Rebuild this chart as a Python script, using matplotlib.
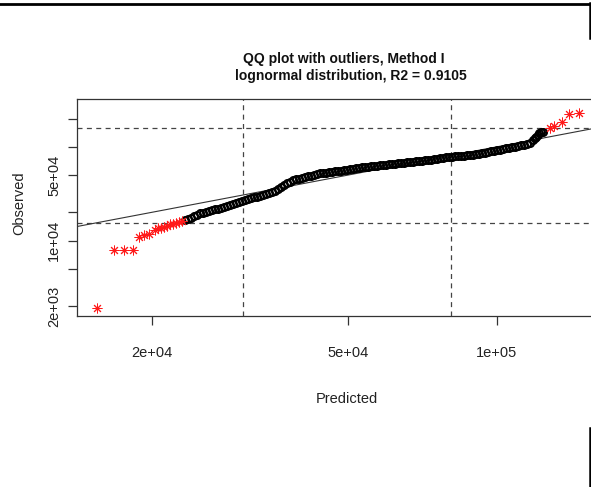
import numpy as np
import matplotlib
matplotlib.use('Agg')
import matplotlib.pyplot as plt
from matplotlib import font_manager
from matplotlib.lines import Line2D
from matplotlib.ticker import NullLocator, FixedLocator, FixedFormatter

# pick a narrow sans if there is one (the reference text is condensed)
names = {f.name for f in font_manager.fontManager.ttflist}
narrow = 'Liberation Sans Narrow' in names
fam = 'Liberation Sans Narrow' if narrow else 'Liberation Sans'
plt.rcParams['font.family'] = [fam, 'DejaVu Sans']
fs = 12 if narrow else 10.5
fs_title = 12 if narrow else 10

# ---- data ----
# black circles (predicted vs observed)
predicted = [23330, 23660, 23990, 24330, 24670, 25020, 25370, 25730, 26090, 26460,
             26830, 27210, 27600, 27980, 28380, 28780, 29180, 29590, 30010,
             30430, 30860, 31300, 31740, 32190,
             32640, 33100, 33570, 34040, 34520, 35010,
             35500, 36000, 36510,
             37020, 37540, 38070, 38610,
             39150, 39700, 40260, 40830,
             41410, 41990, 42580, 43180, 43790,
             44410, 45030, 45670, 46310,
             46960, 47620, 48290, 48970, 49670, 50360, 51070, 51790, 52520, 53260, 54010,
             54780, 55550, 56330, 57120, 57930, 58750, 59570, 60410, 61260, 62130, 63000,
             63890, 64790, 65700, 66630, 67570, 68520, 69490, 70470, 71460, 72460, 73490,
             74520, 75570, 76640, 77720, 78810, 79920,
             81050, 82190, 83350, 84520, 85710, 86920, 88150, 89390,
             90650, 91930, 93220, 94530, 95870,
             97220, 98590, 99980, 101400, 102800, 104300,
             105700, 107200, 108700, 110300,
             111800, 113400, 115000, 116600,
             118300, 119400, 120200, 121100, 121900, 122800, 123900]
observed = [16560, 17050, 17560, 18110, 18800, 19520, 19880, 20250, 20620, 21000,
            21440, 21940, 22450, 22970, 23500, 24050, 24600, 25170, 25760,
            26340, 26930, 27530, 28140, 28770,
            29420, 30070, 30750, 31440, 32150, 32870,
            34130, 35860, 37680,
            39470, 40950, 42490, 44080,
            44970, 45790, 46630, 47490,
            48370, 49300, 50240, 51190, 52160,
            52630, 53090, 53570, 54040,
            54590, 55200, 55810, 56430, 57060, 57690, 58340, 58980, 59640, 60300, 60970,
            61550, 62020, 62490, 62950, 63430, 63900, 64390, 64880, 65370, 65870, 66370,
            66890, 67490, 68090, 68690, 69300, 69920, 70540, 71170, 71800, 72440, 73080,
            73790, 74640, 75490, 76370, 77260, 78130,
            78730, 79140, 79570, 80000, 80430, 80870, 81310, 81750,
            82860, 84090, 85320, 86570, 87830,
            89130, 90480, 91850, 93230, 94640, 96100,
            97570, 99120, 100700, 102200,
            103900, 105600, 107300, 109000,
            117300, 123100, 127600, 133800, 140500, 143500, 144800]

# red asterisks (outliers)
out_pred = [15490, 16730, 17580, 18280, 18830, 19270, 19720,
            20280, 20570, 20860, 21150, 21450, 21750, 22060, 22370, 22680, 23000,
            128000, 130600, 135200, 140100, 146800]
out_obs = [1920, 7920, 7920, 7920, 11030, 11310, 11590,
           13100, 13430, 13760, 14100, 14450, 14820, 15180, 15560, 15750, 16140,
           157600, 166800, 185400, 224000, 227900]

vlines = [30600, 80700]
hlines = [15490, 157600]

xticks = [2e4, 5e4, 1e5]
xlabels = ['2e+04', '5e+04', '1e+05']
yticks = [2e3, 5e3, 1e4, 2e4, 5e4, 1e5, 2e5]
ylabels = ['2e+03', '', '1e+04', '', '5e+04', '', '']

W, H = 591, 487
fig = plt.figure(figsize=(W / 100, H / 100), dpi=100)
L, R, T, B = 77, 614, 99, 316
ax = fig.add_axes([L / W, 1 - B / H, (R - L) / W, (B - T) / H])
ax.set_xscale('log')
ax.set_yscale('log')
ax.set_xlim(14100, 172600)
ax.set_ylim(1564, 323700)

for v in vlines:
    ax.axvline(v, color='#444444', lw=0.9, ls=(0, (4, 3.5)), zorder=1)
for h in hlines:
    ax.axhline(h, color='#444444', lw=0.9, ls=(0, (4, 3.5)), zorder=1)

# reference line y = x
ax.axline((1e4, 1e4), (1e5, 1e5), color='#333333', lw=0.8, zorder=2)

ax.plot(predicted, observed, ls='none', marker='o', ms=5.0, mfc='none',
        mec='black', mew=1.5, zorder=3)
ax.plot(out_pred, out_obs, ls='none', marker=(8, 2, 0), ms=7.0,
        mec='#ff1a1a', mew=0.7, zorder=4)

ax.xaxis.set_major_locator(FixedLocator(xticks))
ax.xaxis.set_major_formatter(FixedFormatter(xlabels))
ax.yaxis.set_major_locator(FixedLocator(yticks))
ax.yaxis.set_major_formatter(FixedFormatter(ylabels))
ax.xaxis.set_minor_locator(NullLocator())
ax.yaxis.set_minor_locator(NullLocator())
ax.tick_params(axis='both', length=6.5, width=0.9, color='#333333',
               labelsize=fs, labelcolor='#222222')
ax.tick_params(axis='x', pad=15)
ax.tick_params(axis='y', pad=5)
for lab in ax.get_yticklabels():
    lab.set_rotation(90)
    lab.set_va('center')

for s in ax.spines.values():
    s.set_color('#333333')
    s.set_linewidth(0.9)

fig.text(344 / W, 1 - 63 / H, 'QQ plot with outliers, Method I', ha='center',
         va='baseline', fontsize=fs_title, fontweight='bold', color='#111111')
fig.text(351 / W, 1 - 80 / H, 'lognormal distribution, R2 = 0.9105', ha='center',
         va='baseline', fontsize=fs_title, fontweight='bold', color='#111111')
fig.text(347 / W, 1 - 403 / H, 'Predicted', ha='center', va='baseline',
         fontsize=fs, color='#222222')
fig.text(26 / W, 1 - 203 / H, 'Observed', ha='right', va='center',
         rotation=90, fontsize=fs, color='#222222')

# page border bits from the screenshot
fig.add_artist(Line2D([0, 1], [1 - 3.5 / H, 1 - 3.5 / H], color='black', lw=2.0))
fig.add_artist(Line2D([589.5 / W, 589.5 / W], [1 - 3 / H, 1 - 38 / H], color='black', lw=1.8))
fig.add_artist(Line2D([589.5 / W, 589.5 / W], [1 - 428 / H, 0], color='black', lw=1.8))

fig.savefig('out.png', dpi=100)
